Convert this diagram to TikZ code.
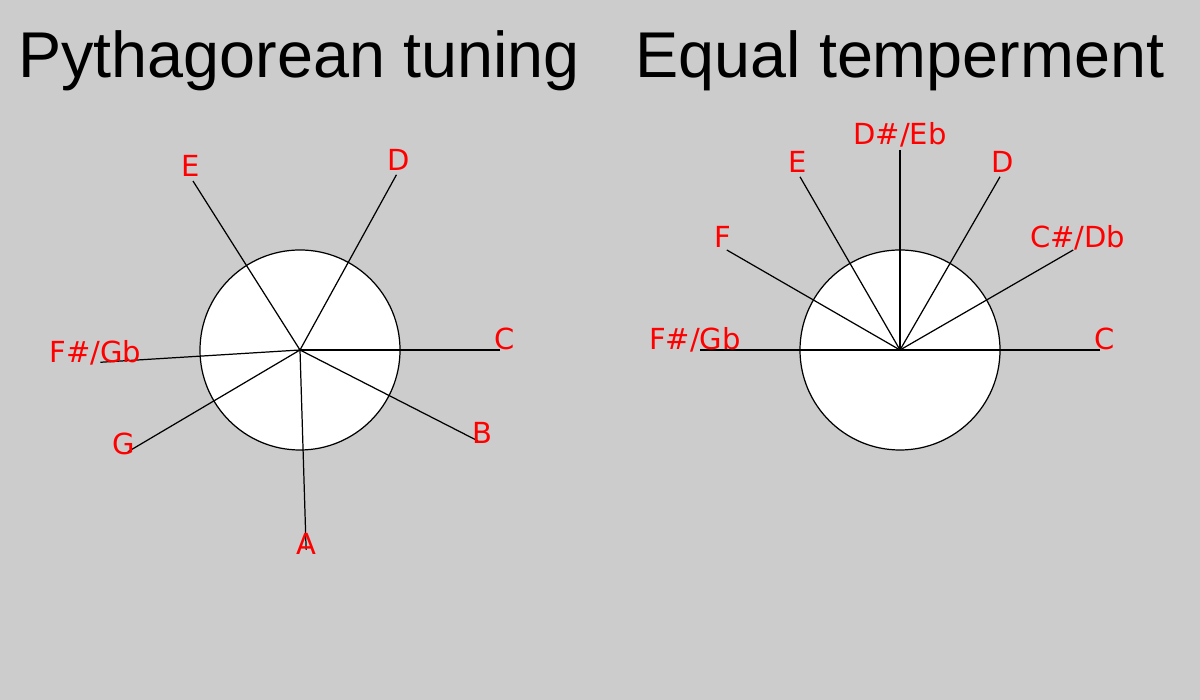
\documentclass[tikz,border=0pt]{standalone}
\usepackage{fontspec}
\setmainfont{Liberation Sans}
\newfontfamily\notefont{DejaVu Sans}
\usepackage{xcolor}
\definecolor{bggray}{HTML}{CCCCCC}

\begin{document}
\begin{tikzpicture}[x=0.01cm,y=0.01cm,
  title/.style={anchor=base,inner sep=0pt,font=\fontsize{18.4}{18.4}\selectfont},
  note/.style={red,anchor=base,inner sep=0pt,font=\notefont\fontsize{8.25}{8.25}\selectfont},
  spoke/.style={line width=0.35pt},
  dial/.style={draw,fill=white,line width=0.35pt}]
  \fill[bggray] (0,0) rectangle (1200,700);
  \useasboundingbox (0,0) rectangle (1200,700);
  \node[title] (pyth) at (299,622) {Pythagorean tuning};
  \node[title] (equal) at (900,622) {Equal temperment};
  % Pythagorean tuning
  \coordinate (P) at (300,350);
  \draw[dial] (P) circle (100);
  \coordinate (PC) at ([shift={(0:200)}]P);
  \coordinate (PD) at ([shift={(61.17:200)}]P);
  \coordinate (PE) at ([shift={(122.35:200)}]P);
  \coordinate (PFs) at ([shift={(183.52:200)}]P);
  \coordinate (PG) at ([shift={(210.59:200)}]P);
  \coordinate (PA) at ([shift={(271.76:200)}]P);
  \coordinate (PB) at ([shift={(332.93:200)}]P);
  \draw[spoke] (P)--(PC);
  \draw[spoke] (P)--(PD);
  \draw[spoke] (P)--(PE);
  \draw[spoke] (P)--(PFs);
  \draw[spoke] (P)--(PG);
  \draw[spoke] (P)--(PA);
  \draw[spoke] (P)--(PB);
  \node[note] (lPC) at ([shift={(0:205)}]P) {C};
  \node[note] (lPD) at ([shift={(61.17:205)}]P) {D};
  \node[note] (lPE) at ([shift={(122.35:205)}]P) {E};
  \node[note] (lPFs) at ([shift={(183.52:205)}]P) {F\#/Gb};
  \node[note] (lPG) at ([shift={(210.59:205)}]P) {G};
  \node[note] (lPA) at ([shift={(271.76:205)}]P) {A};
  \node[note] (lPB) at ([shift={(332.93:205)}]P) {B};
  % Equal temperament
  \coordinate (Q) at (900,350);
  \draw[dial] (Q) circle (100);
  \coordinate (QC) at ([shift={(0:200)}]Q);
  \coordinate (QCs) at ([shift={(30:200)}]Q);
  \coordinate (QD) at ([shift={(60:200)}]Q);
  \coordinate (QDs) at ([shift={(90:200)}]Q);
  \coordinate (QE) at ([shift={(120:200)}]Q);
  \coordinate (QF) at ([shift={(150:200)}]Q);
  \coordinate (QFs) at ([shift={(180:200)}]Q);
  \draw[spoke] (Q)--(QC);
  \draw[spoke] (Q)--(QCs);
  \draw[spoke] (Q)--(QD);
  \draw[spoke] (Q)--(QDs);
  \draw[spoke] (Q)--(QE);
  \draw[spoke] (Q)--(QF);
  \draw[spoke] (Q)--(QFs);
  \node[note] (lQC) at ([shift={(0:205)}]Q) {C};
  \node[note] (lQCs) at ([shift={(30:205)}]Q) {C\#/Db};
  \node[note] (lQD) at ([shift={(60:205)}]Q) {D};
  \node[note] (lQDs) at ([shift={(90:205)}]Q) {D\#/Eb};
  \node[note] (lQE) at ([shift={(120:205)}]Q) {E};
  \node[note] (lQF) at ([shift={(150:205)}]Q) {F};
  \node[note] (lQFs) at ([shift={(180:205)}]Q) {F\#/Gb};
\end{tikzpicture}
\end{document}
